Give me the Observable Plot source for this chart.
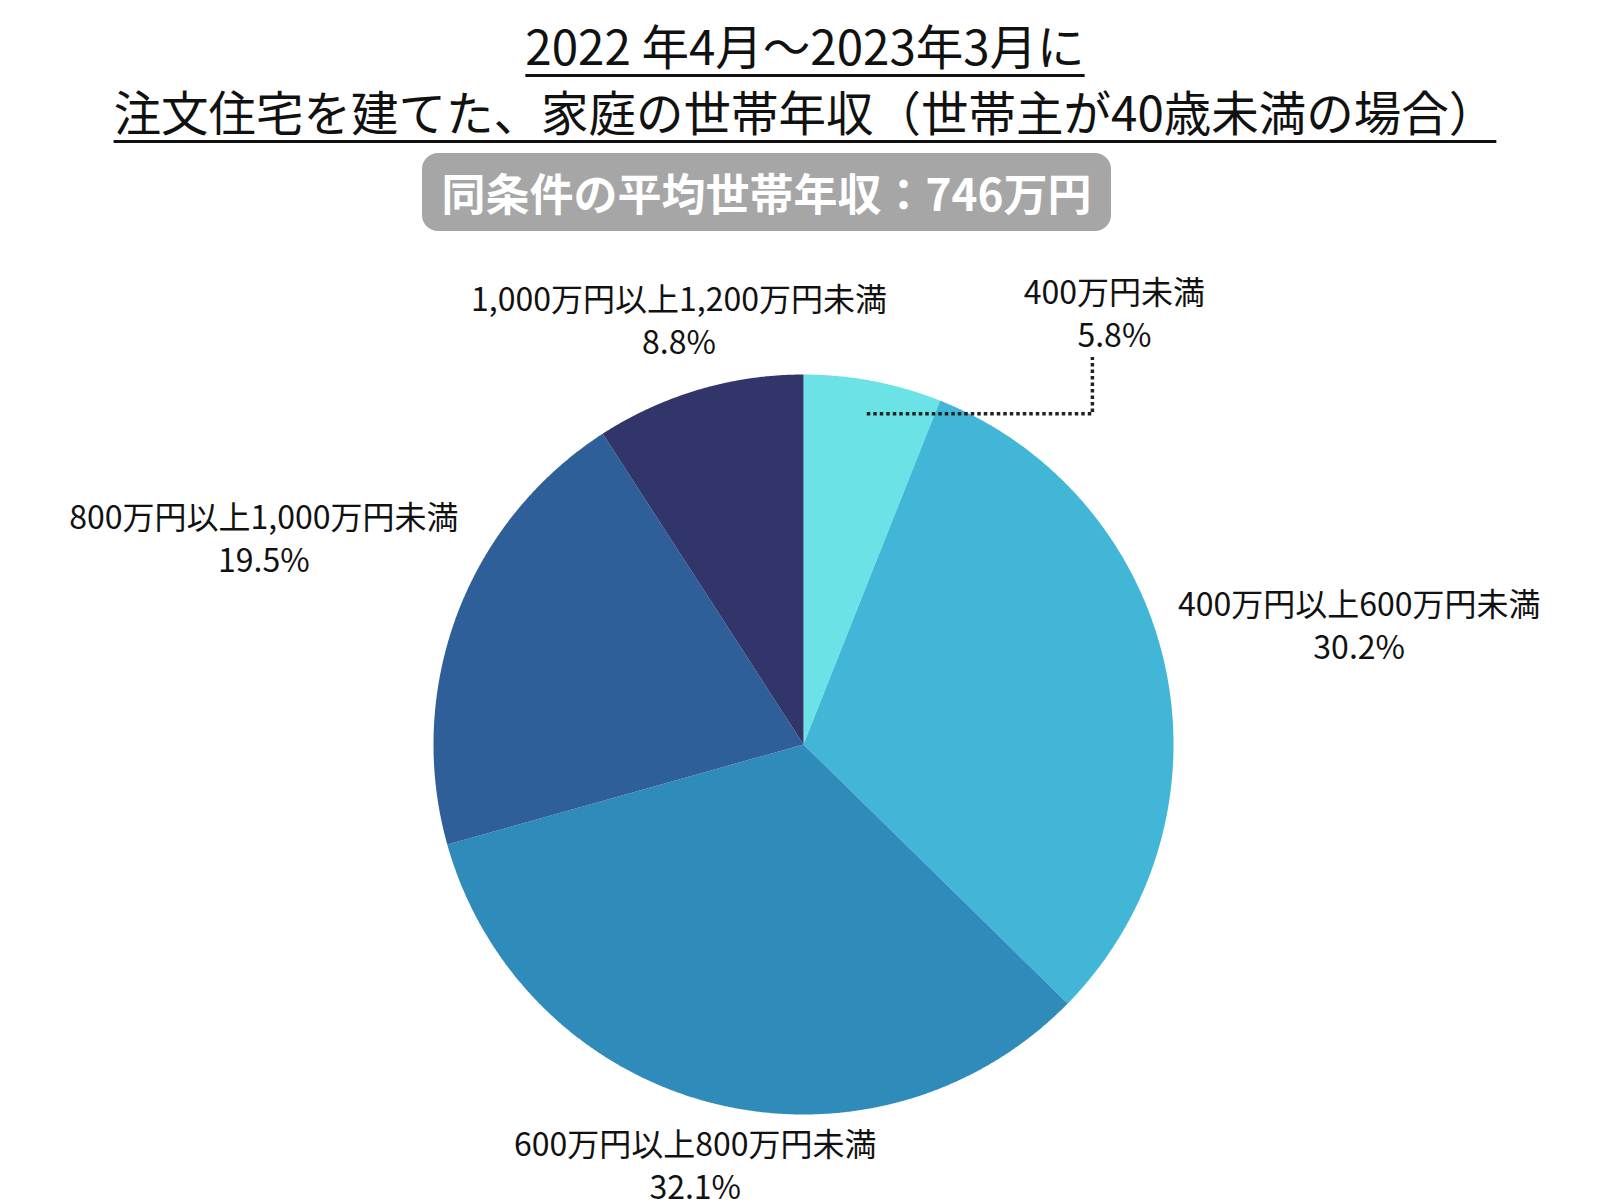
<!DOCTYPE html>
<html lang="ja">
<head>
<meta charset="utf-8">
<script src="https://cdn.jsdelivr.net/npm/d3@7"></script>
<script src="https://cdn.jsdelivr.net/npm/@observablehq/plot@0.6"></script>
<style>
  html, body { margin: 0; padding: 0; background: #ffffff; }
  body { width: 1600px; height: 1200px; position: relative; overflow: hidden;
         font-family: "Noto Sans CJK JP", "Noto Sans", sans-serif; color: #111; }
  #title { position: absolute; left: 0; top: 12px; width: 1610px; text-align: center;
           font-size: 47.5px; line-height: 66px; font-weight: 400; }
  #title div span { text-decoration: underline; text-decoration-thickness: 3px; text-underline-offset: 9px; }
  #badge { position: absolute; left: 422px; top: 153px; width: 689px; height: 78px;
           border-radius: 16px; background: #a6a6a6; color: #ffffff; font-weight: 700;
           font-size: 44px; line-height: 78px; text-align: center; }
  #chart { position: absolute; left: 0; top: 240px; }
</style>
</head>
<body>
<div id="title"></div>
<div id="badge"></div>
<div id="chart"></div>
<script>
// ---- data ----
const titleLines = ["2022 年4月〜2023年3月に", "注文住宅を建てた、家庭の世帯年収（世帯主が40歳未満の場合）"];
const badgeText = "同条件の平均世帯年収：746万円";
const categories = ["400万円未満", "400万円以上600万円未満", "600万円以上800万円未満", "800万円以上1,000万円未満", "1,000万円以上1,200万円未満"];
const shares = [5.8, 30.2, 32.1, 19.5, 8.8];
const colors = ["#6be3e6", "#42b6d6", "#2e8bba", "#2e5f98", "#31356a"];
const calloutCategory = "400万円未満";

// ---- layout ----
const W = 1600, H = 960, CX = 803, CY = 504, R = 370;
const FONT = "'Noto Sans CJK JP', 'Noto Sans', sans-serif";
const LABEL_SIZE = 32, LINE = 43, GAP = 12;
const callout = {angle: 35.9, distance: 1.433, startRadius: 0.91, barOffset: 22};

document.getElementById("title").innerHTML = titleLines.map(t => `<div><span>${t}</span></div>`).join("");
document.getElementById("badge").textContent = badgeText;

const total = d3.sum(shares);
let cum = 0;
const slices = categories.map((name, i) => {
  const a0 = cum / total * 2 * Math.PI;
  cum += shares[i];
  const a1 = cum / total * 2 * Math.PI;
  return {name, share: shares[i], a0, a1, mid: (a0 + a1) / 2};
});

// slice outlines (geometry of each wedge in radius units)
const wedgePoints = [];
for (const s of slices) {
  wedgePoints.push({name: s.name, x: 0, y: 0});
  const n = Math.max(2, Math.ceil((s.a1 - s.a0) / (Math.PI / 720)));
  for (let k = 0; k <= n; k++) {
    const a = s.a0 + (s.a1 - s.a0) * k / n;
    wedgePoints.push({name: s.name, x: Math.sin(a), y: -Math.cos(a)});
  }
  wedgePoints.push({name: s.name, x: 0, y: 0});
}

// label placement: along mid-angle, just outside the pie
const ctx = document.createElement("canvas").getContext("2d");
ctx.font = `${LABEL_SIZE}px ${FONT}`;
const labels = slices.map(s => {
  const pct = s.share.toFixed(1) + "%";
  if (s.name === calloutCategory) {
    const a = callout.angle * Math.PI / 180;
    return {...s, pct, x: callout.distance * Math.sin(a), y: -callout.distance * Math.cos(a)};
  }
  const hw = Math.max(ctx.measureText(s.name).width, ctx.measureText(pct).width) / 2;
  const hh = LINE - 3;
  const ux = Math.sin(s.mid), uy = -Math.cos(s.mid);
  let d = R;
  for (; d < 3 * R; d += 0.5) {
    const px = Math.max(0, Math.abs(d * ux) - hw), py = Math.max(0, Math.abs(d * uy) - hh);
    if (Math.hypot(px, py) >= R + GAP) break;
  }
  return {...s, pct, x: d * ux / R, y: d * uy / R};
});

const cl = labels.find(d => d.name === calloutCategory);
const sm = slices.find(d => d.name === calloutCategory).mid;
const leader = [
  {x: callout.startRadius * Math.sin(sm), y: -callout.startRadius * Math.cos(sm)},
  {x: cl.x - callout.barOffset / R, y: -callout.startRadius * Math.cos(sm)},
  {x: cl.x - callout.barOffset / R, y: cl.y + (LINE - 1) / R}
];

const chart = Plot.plot({
  width: W, height: H,
  marginTop: 0, marginRight: 0, marginBottom: 0, marginLeft: 0,
  x: {domain: [-CX / R, (W - CX) / R], range: [0, W], axis: null},
  y: {domain: [-CY / R, (H - CY) / R], range: [0, H], axis: null},
  color: {domain: categories, range: colors},
  style: {fontFamily: FONT, background: "#ffffff"},
  marks: [
    Plot.line(wedgePoints, {x: "x", y: "y", z: "name", fill: "name", stroke: "none", curve: "linear"}),
    Plot.line(leader, {x: "x", y: "y", stroke: "#222", strokeWidth: 3.5, strokeDasharray: "3.5,3", strokeLinecap: "butt"}),
    Plot.text(labels, {x: "x", y: "y", text: "name", dy: -LINE / 2, fontSize: LABEL_SIZE, fill: "#111", fontFamily: FONT}),
    Plot.text(labels, {x: "x", y: "y", text: "pct", dy: LINE / 2, fontSize: LABEL_SIZE, fill: "#111", fontFamily: FONT})
  ]
});
document.getElementById("chart").appendChild(chart);
</script>
</body>
</html>
